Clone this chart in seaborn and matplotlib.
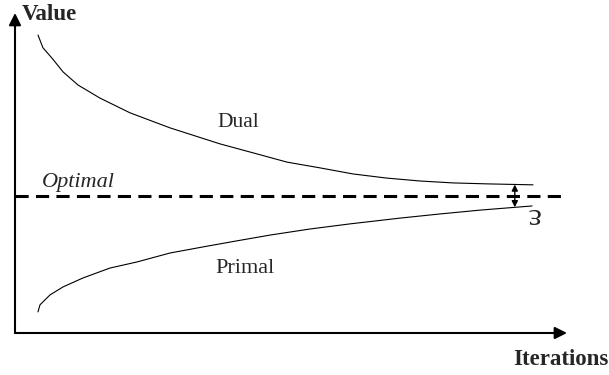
import pandas as pd
import matplotlib
matplotlib.use("Agg")
import matplotlib.pyplot as plt
import seaborn as sns

# values (x = iterations, y = value, arbitrary units)
dual_x = [4.58, 5.58, 7.37, 9.57, 12.55, 16.94, 22.92, 30.89, 40.85, 47.43,
          54.2, 60.78, 67.36, 74.13, 80.71, 87.29, 94.06, 103.23]
dual_y = [9.31, 8.91, 8.59, 8.16, 7.75, 7.34, 6.88, 6.41, 5.91, 5.63,
          5.34, 5.16, 4.97, 4.84, 4.75, 4.69, 4.66, 4.63]

primal_x = [4.58, 4.98, 6.97, 9.57, 13.55, 18.93, 24.31, 30.89, 37.47, 44.24,
            50.82, 58.79, 66.76, 76.72, 84.69, 92.67, 103.03]
primal_y = [0.66, 0.88, 1.19, 1.44, 1.72, 2.03, 2.22, 2.5, 2.69, 2.88,
            3.06, 3.25, 3.41, 3.59, 3.72, 3.84, 3.97]

optimal = 4.28
x_max = 110
y_max = 10.0
gap_x = 99.6  # where the epsilon gap is marked

df = pd.concat([
    pd.DataFrame({"Iterations": dual_x, "Value": dual_y, "curve": "Dual"}),
    pd.DataFrame({"Iterations": primal_x, "Value": primal_y, "curve": "Primal"}),
])

sns.set_theme(style="white")
plt.rcParams["font.family"] = ["Liberation Serif", "DejaVu Serif"]

fig = plt.figure(figsize=(6.09, 3.75), dpi=100)
ax = fig.add_axes([0, 0, 1, 1])

sns.lineplot(data=df, x="Iterations", y="Value", units="curve", estimator=None,
             sort=False, color="black", lw=0.8, ax=ax, legend=False)

# optimal dashed line
ax.plot([0, 109], [optimal, optimal], color="black", lw=2.2,
        linestyle=(0, (4.3, 2.4)))

# axes with arrow heads
arrow = dict(arrowstyle="-|>", color="black", lw=1.5, mutation_scale=18,
             shrinkA=0, shrinkB=0)
ax.annotate("", xy=(x_max, 0), xytext=(0, 0), arrowprops=arrow)
ax.annotate("", xy=(0, y_max), xytext=(0, 0), arrowprops=arrow)

# epsilon gap
d_end = 4.64
p_end = 3.93
ax.annotate("", xy=(gap_x, p_end), xytext=(gap_x, d_end),
            arrowprops=dict(arrowstyle="<|-|>", color="black", lw=1.0,
                            mutation_scale=9, shrinkA=0, shrinkB=0))
ax.text(103.2, 3.68, "ε", fontsize=23, rotation=180, ha="center", va="center")

# labels
ax.text(1.4, 9.78, "Value", fontsize=16.5, fontweight="bold", va="baseline")
ax.text(99.2, -1.0, "Iterations", fontsize=16.5, fontweight="bold", va="baseline")
ax.text(40.3, 6.44, "Dual", fontsize=15.5, va="baseline")
ax.text(39.9, 1.875, "Primal", fontsize=16, va="baseline")
ax.text(5.4, 4.56, "Optimal", fontsize=16, style="italic", va="baseline")

ax.set_xlim(-2.99, 118.37)
ax.set_ylim(-1.3125, 10.406)
ax.set_axis_off()

fig.savefig("out.png", dpi=100)
